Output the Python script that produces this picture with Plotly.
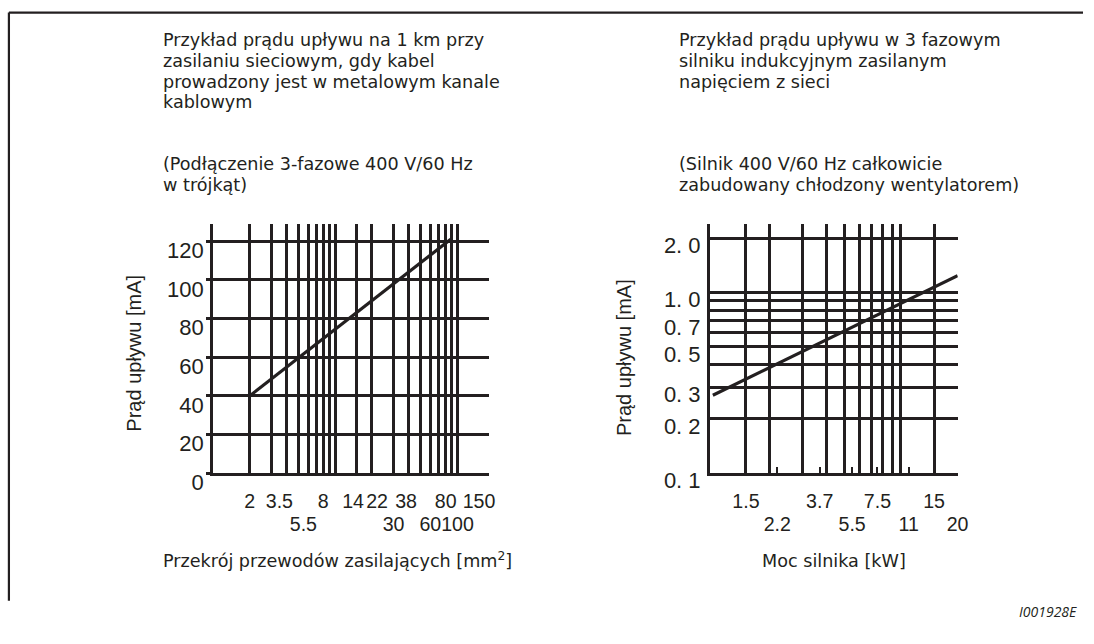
import math
import plotly.graph_objects as go

W, H = 1094, 644
INK = "#231f20"
SANS = "Liberation Sans, Arial, sans-serif"
HUMANIST = "DejaVu Sans, Open Sans, sans-serif"

# Left panel: leakage current per 1 km of cable vs conductor cross-section
cable_sizes = [2, 3.5, 5.5, 8, 14, 22, 30, 38, 60, 80, 100, 150]
cable_lower_row = [5.5, 30, 60, 100]
cable_grid = [2, 3, 4, 5, 6, 7, 8, 9, 10, 15, 20, 30, 40, 50, 60, 70, 80, 90, 100]
cable_current_ticks = [0, 20, 40, 60, 80, 100, 120]
cable_line_size = [2, 88]
cable_line_current = [40, 121]

# Right panel: leakage current of a 3-phase induction motor vs rated power
motor_kw = [1.5, 2.2, 3.7, 5.5, 7.5, 11, 15, 20]
motor_lower_row = [2.2, 5.5, 11, 20]
motor_grid = [1.5, 2, 3, 4, 5, 6, 7, 8, 9, 10, 15, 20]
motor_current_ticks = [0.1, 0.2, 0.3, 0.5, 0.7, 1.0, 2.0]
motor_current_labels = ["0. 1", "0. 2", "0. 3", "0. 5", "0. 7", "1. 0", "2. 0"]
motor_current_grid = [0.2, 0.3, 0.4, 0.5, 0.6, 0.7, 0.8, 0.9, 1.0, 2.0]
motor_line_kw = [1, 20]
motor_line_current = [0.27, 1.24]

left_title = ["Przykład prądu upływu na 1 km przy", "zasilaniu sieciowym, gdy kabel",
              "prowadzony jest w metalowym kanale", "kablowym"]
left_note = ["(Podłączenie 3-fazowe 400 V/60 Hz", "w trójkąt)"]
right_title = ["Przykład prądu upływu w 3 fazowym", "silniku indukcyjnym zasilanym",
               "napięciem z sieci"]
right_note = ["(Silnik 400 V/60 Hz całkowicie", "zabudowany chłodzony wentylatorem)"]

# short marks on the cable axis for sizes that have no grid line of their own
cable_marks = [s for s in cable_sizes if s not in cable_grid and s < max(cable_grid)]


def px(x):
    return x / W


def py(y):
    return 1 - y / H


def stagger(values, lower):
    # 19.6px digits on an 18px base: the second row sits 1.3 x 18 = 23.4px lower
    out = []
    for v in values:
        t = '<span style="font-size:19.6px">%g</span>' % v
        out.append("<br>" + t if v in lower else t)
    return out


GRID_W = 2.6
X_TICK_FONT = dict(family=SANS, size=18, color=INK)
Y_TICK_FONT = dict(family=SANS, size=22, color=INK)

fig = go.Figure()
fig.add_trace(go.Scatter(x=cable_line_size, y=cable_line_current, mode="lines",
                         line=dict(color=INK, width=3.2), xaxis="x", yaxis="y",
                         showlegend=False, hoverinfo="skip"))
fig.add_trace(go.Scatter(x=motor_line_kw, y=motor_line_current, mode="lines",
                         line=dict(color=INK, width=3.2), xaxis="x2", yaxis="y2",
                         showlegend=False, hoverinfo="skip"))

y_dom = [py(490), py(231.7)]
cable_dom = [px(215), px(494)]
cable_range = [0, math.log10(181)]

fig.update_layout(
    width=W, height=H, autosize=False,
    margin=dict(l=0, r=0, t=0, b=0),
    paper_bgcolor="white", plot_bgcolor="white",
    xaxis=dict(
        type="log", domain=cable_dom, anchor="y", range=cable_range,
        tickmode="array", tickvals=cable_sizes,
        ticktext=stagger(cable_sizes, cable_lower_row),
        ticks="", showgrid=False, zeroline=False,
        showline=True, linecolor=INK, linewidth=GRID_W,
        tickfont=X_TICK_FONT, tickangle=0, ticklabelstandoff=10,
        minor=dict(tickmode="array", tickvals=cable_grid, showgrid=True,
                   gridcolor=INK, gridwidth=GRID_W, ticks=""),
    ),
    xaxis3=dict(
        type="log", overlaying="x", anchor="y", side="bottom",
        domain=cable_dom, range=cable_range,
        tickmode="array", tickvals=cable_marks, showticklabels=False,
        ticks="inside", ticklen=6, tickwidth=2.4, tickcolor=INK,
        showgrid=False, zeroline=False, showline=False,
    ),
    yaxis=dict(
        domain=y_dom, anchor="x", range=[0, 129],
        tickmode="array", tickvals=cable_current_ticks,
        showgrid=True, gridcolor=INK, gridwidth=GRID_W, zeroline=False,
        showline=True, linecolor=INK, linewidth=GRID_W,
        ticks="outside", ticklen=4, tickwidth=GRID_W, tickcolor=INK,
        tickfont=Y_TICK_FONT, ticklabelshift=9, ticklabelstandoff=-2,
    ),
    xaxis2=dict(
        type="log", domain=[px(717), px(967.5)], anchor="y2",
        range=[math.log10(0.963), math.log10(20) + 0.001],
        tickmode="array", tickvals=motor_kw,
        ticktext=stagger(motor_kw, motor_lower_row),
        ticks="inside", ticklen=6, tickwidth=2.4, tickcolor=INK,
        showgrid=False, zeroline=False,
        showline=True, linecolor=INK, linewidth=GRID_W,
        tickfont=X_TICK_FONT, tickangle=0, ticklabelstandoff=10,
        minor=dict(tickmode="array", tickvals=motor_grid, showgrid=True,
                   gridcolor=INK, gridwidth=GRID_W, ticks=""),
    ),
    yaxis2=dict(
        type="log", domain=y_dom, anchor="x2", range=[-1, math.log10(2.4)],
        tickmode="array", tickvals=motor_current_ticks, ticktext=motor_current_labels,
        showgrid=False, zeroline=False,
        showline=True, linecolor=INK, linewidth=GRID_W, ticks="",
        tickfont=Y_TICK_FONT, ticklabelshift=7, ticklabelstandoff=2,
        minor=dict(tickmode="array", tickvals=motor_current_grid, showgrid=True,
                   gridcolor=INK, gridwidth=GRID_W, ticks=""),
    ),
)

TEXT_PX = 17.6


def note(text, x, y, xanchor="left", yanchor="middle", font=None, angle=0):
    fig.add_annotation(text=text, x=px(x), y=py(y), xref="paper", yref="paper",
                       xanchor=xanchor, yanchor=yanchor, showarrow=False, align="left",
                       font=font or dict(family=HUMANIST, size=TEXT_PX, color=INK),
                       textangle=angle)


def block(lines, x, y_top):
    # 17.6px glyphs on a 16px base, so the lines sit 1.3 x 16 = 20.8px apart
    body = "<br>".join('<span style="font-size:%spx">%s</span>' % (TEXT_PX, s)
                       for s in lines)
    note(body, x, y_top, yanchor="top",
         font=dict(family=HUMANIST, size=16, color=INK))


block(left_title, 163, 29)
block(left_note, 163, 157)
block(right_title, 684, 29)
block(right_note, 684, 157)

axis_title_font = dict(family=SANS, size=20, color=INK)
note("Prąd upływu [mA]", 135.5, 366, xanchor="center", font=axis_title_font, angle=-90)
note("Prąd upływu [mA]", 631, 370, xanchor="center", font=axis_title_font, angle=-90)
note("Przekrój przewodów zasilających [mm<sup>2</sup>]", 163, 593, yanchor="bottom")
note("Moc silnika [kW]", 842, 593, xanchor="center", yanchor="bottom")
note("<i>I001928E</i>", 1090, 633, xanchor="right",
     font=dict(family="Open Sans, Noto Sans, sans-serif", size=14, color=INK))

# Figure frame: rules along the top and left edges
fig.add_shape(type="line", xref="paper", yref="paper", x0=px(9), x1=1,
              y0=py(13), y1=py(13), line=dict(color=INK, width=2.2))
fig.add_shape(type="line", xref="paper", yref="paper", x0=px(9), x1=px(9),
              y0=py(13), y1=py(622), line=dict(color=INK, width=2.2))

fig.write_html("out.html")
